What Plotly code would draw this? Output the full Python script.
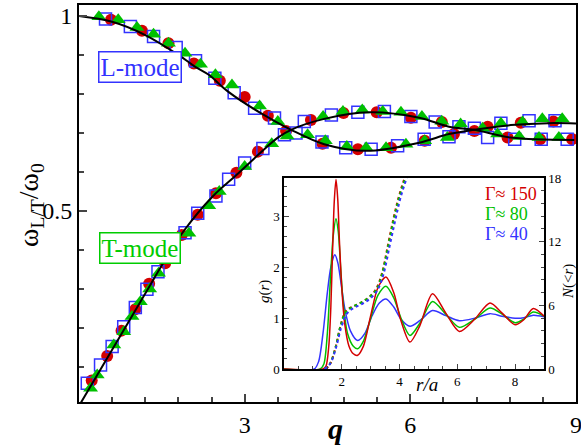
import plotly.graph_objects as go

# ---- theory curves (main panel) ----
L_q = [0.0, 0.6, 1.2, 1.8, 2.1, 2.35, 2.7, 3.3, 3.84, 4.44, 5.2, 6.16, 6.7, 7.16, 7.82, 8.5, 9.0]
L_w = [1.0, 0.985, 0.951, 0.90, 0.870, 0.849, 0.806, 0.75, 0.708, 0.671, 0.654, 0.675, 0.697, 0.708, 0.72, 0.725, 0.724]
T_q = [0.0, 0.6, 1.2, 1.55, 1.91, 2.42, 2.85, 3.3, 3.6, 3.84, 4.44, 5.26, 6.16, 6.7, 7.16, 7.82, 8.97]
T_w = [0.0, 0.144, 0.288, 0.372, 0.451, 0.537, 0.592, 0.651, 0.688, 0.708, 0.736, 0.753, 0.739, 0.716, 0.708, 0.688, 0.682]

# ---- simulation points ----
circ_q = [0.58, 1.14, 1.62, 2.08, 2.55, 3.0, 3.42, 3.75, 4.41, 5.05, 5.65, 6.26, 6.79, 7.4, 8.0, 8.59,
          0.23, 0.51, 0.77, 1.02, 1.27, 1.56, 1.86, 2.15, 2.48, 2.85, 3.24, 4.2, 4.79, 5.39, 6.01, 6.57, 7.16, 7.76, 8.35, 8.93]
circ_w = [0.99, 0.962, 0.93, 0.878, 0.834, 0.792, 0.744, 0.705, 0.672, 0.658, 0.662, 0.68, 0.697, 0.716, 0.726, 0.729,
          0.065, 0.128, 0.193, 0.248, 0.313, 0.366, 0.438, 0.49, 0.545, 0.598, 0.652, 0.733, 0.751, 0.753, 0.739, 0.728, 0.705, 0.688, 0.684, 0.684]
sq_q = [0.48, 0.93, 1.35, 1.76, 2.11, 2.46, 2.81, 3.18, 3.54, 3.93, 4.4, 4.83, 5.29, 5.77, 6.25, 6.7, 7.16, 7.64, 8.15, 8.62,
        0.15, 0.39, 0.6, 0.81, 1.02, 1.23, 1.43, 1.92, 2.15, 2.48, 2.71, 3.0, 3.33, 3.72, 4.08, 4.57, 5.05, 5.53, 6.01, 6.45, 6.88, 7.4, 7.89, 8.37, 8.84]
sq_w = [0.992, 0.973, 0.947, 0.919, 0.885, 0.84, 0.803, 0.763, 0.738, 0.70, 0.677, 0.662, 0.658, 0.667, 0.684, 0.69, 0.712, 0.725, 0.731, 0.731,
        0.058, 0.105, 0.152, 0.203, 0.252, 0.299, 0.344, 0.444, 0.494, 0.538, 0.581, 0.623, 0.66, 0.695, 0.729, 0.746, 0.753, 0.755, 0.742, 0.728, 0.716, 0.688, 0.684, 0.684, 0.684]
tri_q = [0.36, 0.71, 1.05, 1.35, 1.62, 1.92, 2.2, 2.47, 2.77, 3.27, 3.6, 4.14, 4.46, 4.85, 5.2, 5.56, 5.92, 6.26, 6.67, 7.64, 8.03, 8.39, 8.75,
         0.21, 0.33, 0.63, 0.81, 0.96, 1.11, 1.28, 1.44, 1.6, 1.99, 2.35, 2.54, 3.0, 3.49, 3.77, 4.42, 4.78, 5.13, 5.5, 5.83, 6.21, 6.57, 6.91, 7.31, 7.58, 7.97, 8.33, 8.69]
tri_w = [0.998, 0.99, 0.97, 0.953, 0.93, 0.904, 0.876, 0.849, 0.823, 0.769, 0.729, 0.695, 0.68, 0.665, 0.662, 0.662, 0.671, 0.68, 0.688, 0.725, 0.728, 0.736, 0.736,
         0.045, 0.079, 0.156, 0.19, 0.229, 0.267, 0.30, 0.34, 0.38, 0.443, 0.513, 0.55, 0.614, 0.672, 0.692, 0.742, 0.755, 0.759, 0.755, 0.753, 0.742, 0.73, 0.723, 0.712, 0.697, 0.691, 0.688, 0.688]

# ---- inset: pair correlation g(r) ----
r_red = [0.0, 1.35, 1.45, 1.55, 1.62, 1.68, 1.74, 1.8, 1.86, 1.92, 2.0, 2.1, 2.25, 2.4, 2.55, 2.75, 3.0, 3.25, 3.53, 3.8, 4.05, 4.36, 4.7, 5.14, 5.6, 6.07, 6.6, 7.13, 7.55, 8.0, 8.3, 8.63, 9.0]
g_red = [0.0, 0.0, 0.05, 0.45, 1.2, 2.3, 3.3, 3.73, 3.35, 2.5, 1.6, 0.9, 0.45, 0.3, 0.27, 0.45, 1.05, 1.6, 1.81, 1.5, 0.95, 0.53, 0.85, 1.48, 1.1, 0.74, 0.98, 1.30, 1.1, 0.87, 0.97, 1.19, 1.04]
r_grn = [0.0, 1.25, 1.38, 1.5, 1.6, 1.7, 1.8, 1.88, 1.96, 2.05, 2.2, 2.4, 2.55, 2.75, 3.0, 3.25, 3.53, 3.8, 4.05, 4.36, 4.7, 5.14, 5.6, 6.07, 6.6, 7.13, 7.55, 8.0, 8.3, 8.63, 9.0]
g_grn = [0.0, 0.0, 0.1, 0.7, 1.7, 2.6, 2.96, 2.7, 2.0, 1.3, 0.7, 0.45, 0.40, 0.55, 1.0, 1.45, 1.63, 1.4, 1.0, 0.66, 0.9, 1.33, 1.08, 0.82, 0.98, 1.20, 1.08, 0.91, 0.98, 1.12, 1.04]
r_blu = [0.0, 1.05, 1.2, 1.35, 1.5, 1.62, 1.76, 1.86, 1.96, 2.1, 2.3, 2.55, 2.8, 3.05, 3.3, 3.53, 3.8, 4.05, 4.36, 4.7, 5.14, 5.6, 6.07, 6.6, 7.13, 7.55, 8.0, 8.3, 8.63, 9.0]
g_blu = [0.0, 0.0, 0.15, 0.7, 1.5, 2.0, 2.25, 2.1, 1.75, 1.2, 0.75, 0.56, 0.7, 1.05, 1.3, 1.38, 1.22, 0.98, 0.84, 0.95, 1.15, 1.05, 0.95, 1.0, 1.09, 1.04, 1.0, 1.01, 1.06, 1.03]

# ---- inset: running coordination number N(<r) ----
rN_red = [1.45, 1.6, 1.8, 1.95, 2.15, 2.4, 2.7, 3.0, 3.2, 3.4, 3.6, 3.8, 4.0, 4.3]
N_red = [0.0, 0.5, 2.2, 4.0, 5.5, 5.9, 6.3, 6.9, 7.6, 9.1, 11.7, 14.3, 16.5, 19.0]
rN_grn = [1.42, 1.6, 1.8, 1.95, 2.15, 2.4, 2.7, 3.0, 3.2, 3.4, 3.6, 3.8, 4.0, 4.3]
N_grn = [0.0, 0.55, 2.2, 4.0, 5.4, 5.9, 6.3, 6.9, 7.5, 9.0, 11.5, 14.1, 16.3, 18.8]
rN_blu = [1.4, 1.6, 1.8, 1.98, 2.2, 2.45, 2.75, 3.05, 3.25, 3.45, 3.65, 3.85, 4.05, 4.35]
N_blu = [0.0, 0.5, 2.0, 3.9, 5.3, 5.8, 6.2, 6.8, 7.5, 9.0, 11.5, 14.0, 16.3, 18.8]

gamma_labels = ["Γ≈ 150", "Γ≈ 80", "Γ≈ 40"]

RED = "#d40000"
GRN = "#00c000"
BLU = "#3333ff"
SERIF = "Liberation Serif"

fig = go.Figure()

fig.add_trace(go.Scatter(x=circ_q, y=circ_w, mode="markers",
                         marker=dict(symbol="circle", size=12, color=RED), xaxis="x", yaxis="y"))
fig.add_trace(go.Scatter(x=sq_q, y=sq_w, mode="markers",
                         marker=dict(symbol="square-open", size=12, color=BLU, line=dict(width=1.5)), xaxis="x", yaxis="y"))
fig.add_trace(go.Scatter(x=tri_q, y=tri_w, mode="markers",
                         marker=dict(symbol="triangle-up", size=13, color=GRN), xaxis="x", yaxis="y"))
fig.add_trace(go.Scatter(x=L_q, y=L_w, mode="lines", line=dict(color="black", width=2, shape="spline", smoothing=1.0),
                         xaxis="x", yaxis="y"))
fig.add_trace(go.Scatter(x=T_q, y=T_w, mode="lines", line=dict(color="black", width=2, shape="spline", smoothing=1.0),
                         xaxis="x", yaxis="y"))

# inset
for rr, nn, c in [(rN_red, N_red, RED), (rN_grn, N_grn, GRN), (rN_blu, N_blu, BLU)]:
    fig.add_trace(go.Scatter(x=rr, y=nn, mode="lines", line=dict(color=c, width=2, dash="dot", shape="spline"),
                             xaxis="x2", yaxis="y3"))
for rr, gg, c in [(r_blu, g_blu, BLU), (r_grn, g_grn, GRN), (r_red, g_red, RED)]:
    fig.add_trace(go.Scatter(x=rr, y=gg, mode="lines", line=dict(color=c, width=1.5, shape="spline", smoothing=0.8),
                             xaxis="x2", yaxis="y2"))

W, H = 581, 448
def px(x): return x / W
def py(y): return (H - y) / H

fig.update_layout(
    width=W, height=H, margin=dict(l=0, r=0, t=0, b=0, autoexpand=False),
    paper_bgcolor="white", plot_bgcolor="white", showlegend=False,
    font=dict(family=SERIF, color="black"),
    xaxis=dict(domain=[px(79), px(576)], range=[0, 9], anchor="y",
               tickmode="array", tickvals=[3, 6, 9], ticks="inside", ticklen=8, tickwidth=2,
               minor=dict(tickmode="linear", tick0=0, dtick=0.6, ticks="inside", ticklen=5, tickwidth=1.5),
               showline=True, linewidth=2, linecolor="black", mirror=True, ticklabeloverflow="allow",
               showgrid=False, zeroline=False, tickfont=dict(size=24, family=SERIF)),
    yaxis=dict(domain=[py(402), py(5)], range=[0.01, 1.028], anchor="x",
               tickmode="array", tickvals=[0.5, 1], ticktext=["0.5", "1"], ticks="inside", ticklen=8, tickwidth=2,
               minor=dict(tickmode="linear", tick0=0, dtick=0.1, ticks="inside", ticklen=5, tickwidth=1.5),
               showline=True, linewidth=2, linecolor="black", mirror=True,
               showgrid=False, zeroline=False, tickfont=dict(size=24, family=SERIF)),
    xaxis2=dict(domain=[px(284), px(544)], range=[0, 9], anchor="y2",
                tickmode="array", tickvals=[2, 4, 6, 8], ticks="inside", ticklen=5, tickwidth=1,
                minor=dict(tickmode="linear", tick0=0, dtick=0.5, ticks="inside", ticklen=3, tickwidth=1),
                showline=True, linewidth=1.5, linecolor="black", mirror=True,
                showgrid=False, zeroline=False, tickfont=dict(size=13, family=SERIF)),
    yaxis2=dict(domain=[py(369), py(178)], range=[0, 3.76], anchor="x2",
                tickmode="array", tickvals=[0, 1, 2, 3], ticks="inside", ticklen=5, tickwidth=1,
                minor=dict(tickmode="linear", tick0=0, dtick=0.2, ticks="inside", ticklen=3, tickwidth=1),
                showline=True, linewidth=1.5, linecolor="black", mirror=True,
                showgrid=False, zeroline=False, tickfont=dict(size=13, family=SERIF)),
    yaxis3=dict(overlaying="y2", side="right", range=[0, 18], anchor="x2",
                tickmode="array", tickvals=[0, 6, 12, 18], ticks="inside", ticklen=5, tickwidth=1,
                minor=dict(tickmode="linear", tick0=0, dtick=1.2, ticks="inside", ticklen=3, tickwidth=1),
                showline=True, linewidth=1.5, linecolor="black",
                showgrid=False, zeroline=False, tickfont=dict(size=13, family=SERIF)),
)

def note(text, x, y, size, color="black", angle=0, xanchor="center", **kw):
    d = dict(text=text, x=px(x), y=py(y), xref="paper", yref="paper", showarrow=False,
             xanchor=xanchor, yanchor="middle", textangle=angle,
             font=dict(size=size, color=color, family=SERIF))
    d.update(kw)
    return d

ann = []
ann.append(note("L-mode", 139.5, 67, 25, BLU, bordercolor=BLU, borderwidth=1.5, bgcolor="white", borderpad=1))
ann.append(note("T-mode", 139.5, 247.5, 25, "#00cc00", bordercolor="#00cc00", borderwidth=1.5, bgcolor="white", borderpad=1))
ann.append(note("ω<sub>L/T</sub>/ω<sub>0</sub>", 30, 205, 28, angle=-90))
ann.append(note("<b><i>q</i></b>", 335, 428, 30))
ann.append(note("<i>r/a</i>", 427, 384, 19))
ann.append(note("<i>g</i>(<i>r</i>)", 264, 292, 15, angle=-90))
ann.append(note("<i>N</i>(&lt;<i>r</i>)", 568, 282, 15, angle=-90))
for i, (lab, c) in enumerate(zip(gamma_labels, [RED, GRN, BLU])):
    ann.append(note(lab, 483, 194 + 20 * i, 18, c, xanchor="left"))
fig.update_layout(annotations=ann)

fig.write_html("out.html", config={"displayModeBar": False},
               post_script="document.body.style.margin='0';document.body.style.overflow='hidden';")
